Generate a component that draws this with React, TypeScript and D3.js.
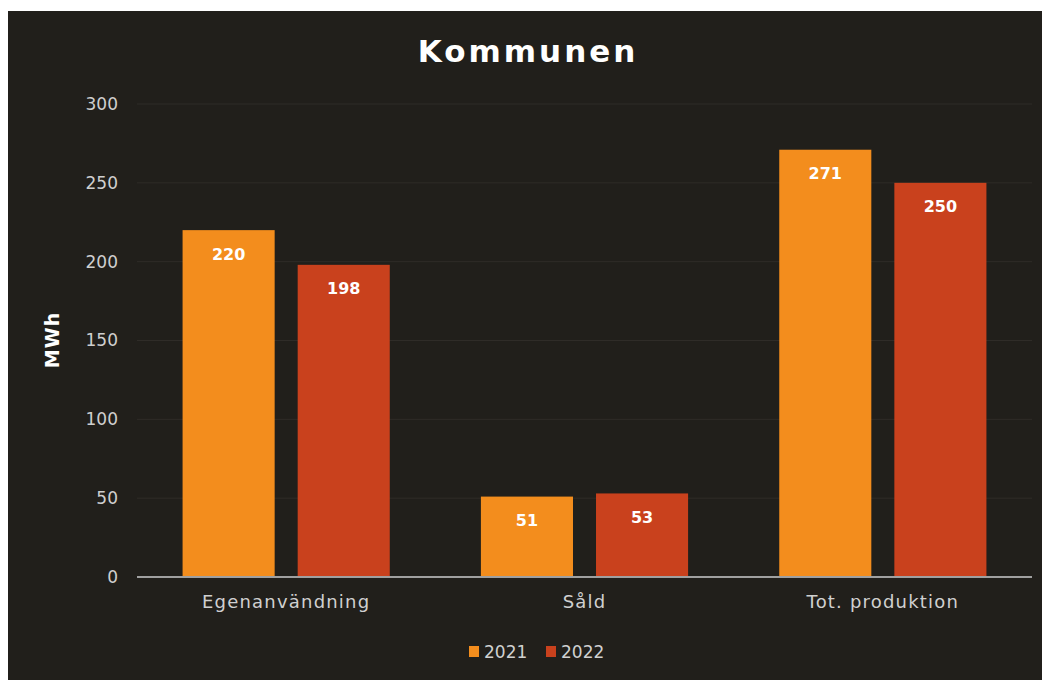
import React from "react";
import * as d3 from "d3";

const categories = ["Egenanvändning", "Såld", "Tot. produktion"];
const seriesNames = ["2021", "2022"];
const values2021 = [220, 51, 271];
const values2022 = [198, 53, 250];
const yTicks = [0, 50, 100, 150, 200, 250, 300];
const colors = ["#f38d1d", "#c9411d"];

const W = 1042;
const H = 680;
const font = "'DejaVu Sans', sans-serif";

export default function App() {
  const y = d3.scaleLinear().domain([0, 300]).range([577, 104]);
  const x0 = d3.scaleBand<string>().domain(categories).range([137, 1032]).paddingInner(0).paddingOuter(0);
  const x1 = d3
    .scaleBand<string>()
    .domain(seriesNames)
    .range([0, x0.bandwidth()])
    .paddingInner(0.2)
    .paddingOuter(0.396);
  const series = [values2021, values2022];

  return (
    <div style={{ position: "absolute", left: 0, top: 0 }}>
      <svg width={W} height={H} style={{ display: "block" }}>
        <rect x={0} y={0} width={W} height={H} fill="#ffffff" />
        <rect x={8} y={11} width={W - 8} height={H - 11} fill="#211f1b" />
        {yTicks.map((t) => (
          <g key={t}>
            {t > 0 && (
              <line x1={137} x2={1032} y1={y(t)} y2={y(t)} stroke="#2f2c28" strokeWidth={1} />
            )}
            <text
              x={118}
              y={y(t)}
              dy="0.35em"
              textAnchor="end"
              fill="#cfcfcf"
              fontFamily={font}
              fontSize={17}
            >
              {t}
            </text>
          </g>
        ))}
        {categories.map((c, ci) =>
          seriesNames.map((s, si) => {
            const v = series[si][ci];
            const bx = (x0(c) ?? 0) + (x1(s) ?? 0);
            const bw = x1.bandwidth();
            return (
              <g key={c + s}>
                <rect x={bx} y={y(v)} width={bw} height={y(0) - y(v)} fill={colors[si]} />
                <text
                  x={bx + bw / 2}
                  y={y(v) + 24}
                  dy="0.35em"
                  textAnchor="middle"
                  fill="#ffffff"
                  fontFamily={font}
                  fontWeight="bold"
                  fontSize={16}
                >
                  {v}
                </text>
              </g>
            );
          })
        )}
        <line x1={137} x2={1032} y1={y(0)} y2={y(0)} stroke="#a0a0a0" strokeWidth={2} />
        {categories.map((c) => (
          <text
            key={c}
            x={(x0(c) ?? 0) + x0.bandwidth() / 2}
            y={602}
            dy="0.35em"
            textAnchor="middle"
            fill="#d0d0d0"
            fontFamily={font}
            fontSize={18}
            letterSpacing={1.2}
          >
            {c}
          </text>
        ))}
        <text
          x={528}
          y={62}
          textAnchor="middle"
          fill="#ffffff"
          fontFamily={font}
          fontWeight="bold"
          fontSize={31}
          letterSpacing={3}
        >
          Kommunen
        </text>
        <text
          transform="translate(52,340) rotate(-90)"
          textAnchor="middle"
          dy="0.35em"
          fill="#ffffff"
          fontFamily={font}
          fontWeight="bold"
          fontSize={19}
          letterSpacing={1}
        >
          MWh
        </text>
        {seriesNames.map((s, i) => {
          const lx = [469, 546][i];
          return (
            <g key={s}>
              <rect x={lx} y={646} width={10} height={11} fill={colors[i]} />
              <text
                x={lx + 15}
                y={652}
                dy="0.35em"
                fill="#d0d0d0"
                fontFamily={font}
                fontSize={17}
              >
                {s}
              </text>
            </g>
          );
        })}
      </svg>
    </div>
  );
}
